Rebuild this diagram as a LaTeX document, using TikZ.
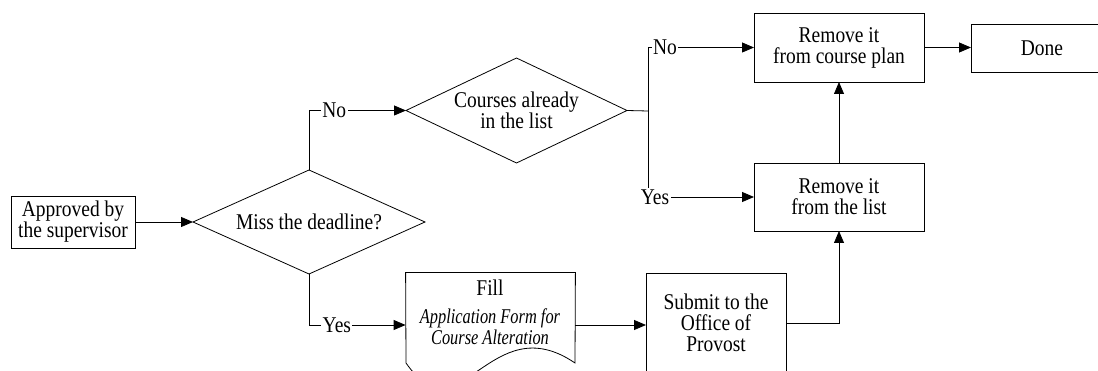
\documentclass[tikz,border=0pt]{standalone}
\usepackage{fontspec}
\setmainfont{Liberation Serif}[FakeStretch=0.865]
\newfontfamily\formfont{Liberation Serif}[FakeStretch=0.78]
\usetikzlibrary{shapes.geometric,arrows.meta}
\tikzset{
	txt/.style={font=\fontsize{22.5pt}{21pt}\selectfont},
	box/.style={txt, draw, rectangle, align=center, inner sep=0pt, outer sep=0pt},
	decision/.style={txt, draw, diamond, aspect=2.1, align=center, inner sep=0pt, outer sep=0pt},
	flow/.style={-{Triangle[length=12pt,width=10pt]}},
	lbl/.style={txt, fill=white, inner sep=1.5pt},
}
\begin{document}
\begin{tikzpicture}[x=1pt, y=-1pt, line width=0.8pt]
	\useasboundingbox (0,0) rectangle (1098,371);
	\clip (0,0) rectangle (1098,371);
	\node[box, minimum width=124, minimum height=52] (approved) at (73,222) {Approved by\\the supervisor};
	\node[decision, minimum width=232, minimum height=104] (miss) at (309,222) {Miss the deadline?};
	\node[decision, minimum width=221, minimum height=105] (courses) at (516.5,110.5) {Courses already\\in the list};
	\node[box, minimum width=170, minimum height=69] (rmplan) at (839,47.5) {Remove it\\from course plan};
	\node[box, minimum width=170, minimum height=68] (rmlist) at (839,197) {Remove it\\from the list};
	\node[box, minimum width=142, minimum height=48] (done) at (1042,48) {Done};
	\node[box, minimum width=140, minimum height=100] (submit) at (716,323) {Submit to the\\Office of\\Provost};
	\node[minimum width=169, minimum height=104, inner sep=0pt] (fill) at (490.5,325) {};
	\draw (fill.north west) -- (fill.north east) -- (575,363) .. controls (490,305) and (460,440) .. (406,363) -- cycle;
	\node[txt] (filltitle) at (490,288) {Fill};
	\node[font=\fontsize{21pt}{21pt}\formfont\itshape, align=center] (form) at (490,327) {Application Form for\\Course Alteration};

	\coordinate (split) at (648,111);
	\draw[flow] (approved) -- (miss);
	\draw[flow] (miss.north) |- node[lbl, pos=0.63] {No} (courses.west);
	\draw[flow] (miss.south) |- node[lbl, pos=0.644] {Yes} (fill.west);
	\draw (courses.east) -- (split);
	\draw[flow] (split) |- node[lbl, pos=0.58] {No} (rmplan.west);
	\draw[flow] (split) |- node[lbl, pos=0.533] {Yes} (rmlist.west);
	\draw[flow] (rmlist) -- (rmplan);
	\draw[flow] (rmplan.east) -- (rmplan.east -| done.west);
	\draw[flow] (fill.east) -- (fill.east -| submit.west);
	\draw[flow] (submit.east) -| (rmlist.south);
\end{tikzpicture}
\end{document}
